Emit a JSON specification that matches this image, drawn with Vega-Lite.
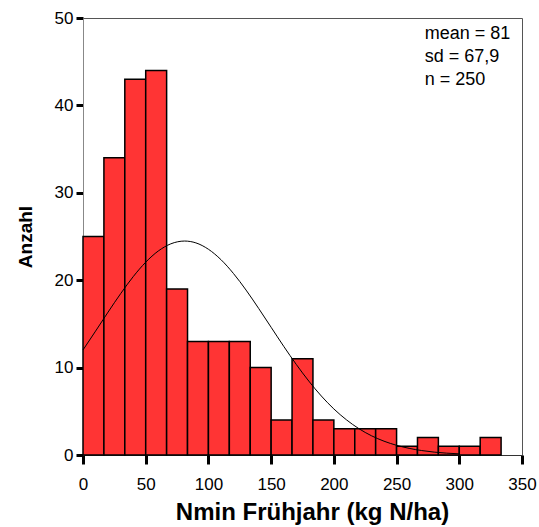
{
  "$schema": "https://vega.github.io/schema/vega-lite/v6.json",
  "width": 439,
  "height": 437,
  "autosize": {"type": "none"},
  "padding": {"left": 83, "top": 18, "right": 17, "bottom": 72},
  "background": "white",
  "config": {
    "font": "Liberation Sans",
    "view": {"stroke": "#555555", "strokeWidth": 1},
    "axis": {"grid": false, "labelFont": "Liberation Sans", "titleFont": "Liberation Sans", "labelColor": "#000000", "titleColor": "#000000"}
  },
  "datasets": {
    "bins": [
      {"start": 0, "end": 16.67, "count": 25},
      {"start": 16.67, "end": 33.33, "count": 34},
      {"start": 33.33, "end": 50, "count": 43},
      {"start": 50, "end": 66.67, "count": 44},
      {"start": 66.67, "end": 83.33, "count": 19},
      {"start": 83.33, "end": 100, "count": 13},
      {"start": 100, "end": 116.67, "count": 13},
      {"start": 116.67, "end": 133.33, "count": 13},
      {"start": 133.33, "end": 150, "count": 10},
      {"start": 150, "end": 166.67, "count": 4},
      {"start": 166.67, "end": 183.33, "count": 11},
      {"start": 183.33, "end": 200, "count": 4},
      {"start": 200, "end": 216.67, "count": 3},
      {"start": 216.67, "end": 233.33, "count": 3},
      {"start": 233.33, "end": 250, "count": 3},
      {"start": 250, "end": 266.67, "count": 1},
      {"start": 266.67, "end": 283.33, "count": 2},
      {"start": 283.33, "end": 300, "count": 1},
      {"start": 300, "end": 316.67, "count": 1},
      {"start": 316.67, "end": 333.33, "count": 2}
    ],
    "curve": [
      {"x": 0, "y": 12.02}, {"x": 10, "y": 14.17}, {"x": 20, "y": 16.35}, {"x": 30, "y": 18.46},
      {"x": 40, "y": 20.40}, {"x": 50, "y": 22.06}, {"x": 60, "y": 23.34}, {"x": 70, "y": 24.16},
      {"x": 81, "y": 24.48}, {"x": 90, "y": 24.27}, {"x": 100, "y": 23.54}, {"x": 110, "y": 22.35},
      {"x": 120, "y": 20.76}, {"x": 130, "y": 18.87}, {"x": 140, "y": 16.78}, {"x": 150, "y": 14.61},
      {"x": 160, "y": 12.44}, {"x": 170, "y": 10.37}, {"x": 180, "y": 8.46}, {"x": 190, "y": 6.75},
      {"x": 200, "y": 5.27}, {"x": 210, "y": 4.03}, {"x": 220, "y": 3.01}, {"x": 230, "y": 2.20},
      {"x": 240, "y": 1.58}, {"x": 250, "y": 1.11}, {"x": 260, "y": 0.76}, {"x": 270, "y": 0.51},
      {"x": 280, "y": 0.33}, {"x": 290, "y": 0.21}, {"x": 300, "y": 0.135}
    ],
    "stats": [
      {"x": 272.5, "y": 48.2, "label": "mean = 81"},
      {"x": 272.5, "y": 45.55, "label": "sd = 67,9"},
      {"x": 272.5, "y": 42.9, "label": "n = 250"}
    ]
  },
  "layer": [
    {
      "data": {"name": "bins"},
      "mark": {"type": "rect", "fill": "#FF3434", "stroke": "#000000", "strokeWidth": 1.5},
      "encoding": {
        "x": {"field": "start", "type": "quantitative",
              "scale": {"domain": [0, 350], "nice": false},
              "axis": {"values": [0, 50, 100, 150, 200, 250, 300, 350], "title": "Nmin Frühjahr (kg N/ha)",
                       "labelFontSize": 17, "titleFontSize": 24, "titleFontWeight": "bold",
                       "tickSize": 9, "tickWidth": 3, "tickColor": "#000000", "labelPadding": 12,
                       "domainColor": "#333333", "titlePadding": 8, "titleX": 229, "labelFlush": false}},
        "x2": {"field": "end"},
        "y": {"field": "count", "type": "quantitative",
              "scale": {"domain": [0, 50], "nice": false},
              "axis": {"values": [0, 10, 20, 30, 40, 50], "title": "Anzahl",
                       "labelFontSize": 17, "titleFontSize": 19, "titleFontWeight": "bold",
                       "tickSize": 7, "tickWidth": 3, "tickColor": "#000000", "labelPadding": 3,
                       "domainColor": "#888888", "titlePadding": 19}},
        "y2": {"datum": 0}
      }
    },
    {
      "data": {"name": "curve"},
      "mark": {"type": "line", "color": "#000000", "strokeWidth": 1, "interpolate": "monotone"},
      "encoding": {
        "x": {"field": "x", "type": "quantitative"},
        "y": {"field": "y", "type": "quantitative"}
      }
    },
    {
      "data": {"name": "stats"},
      "mark": {"type": "text", "align": "left", "baseline": "middle", "fontSize": 18, "font": "Liberation Sans", "color": "#000000"},
      "encoding": {
        "x": {"field": "x", "type": "quantitative"},
        "y": {"field": "y", "type": "quantitative"},
        "text": {"field": "label"}
      }
    }
  ]
}
